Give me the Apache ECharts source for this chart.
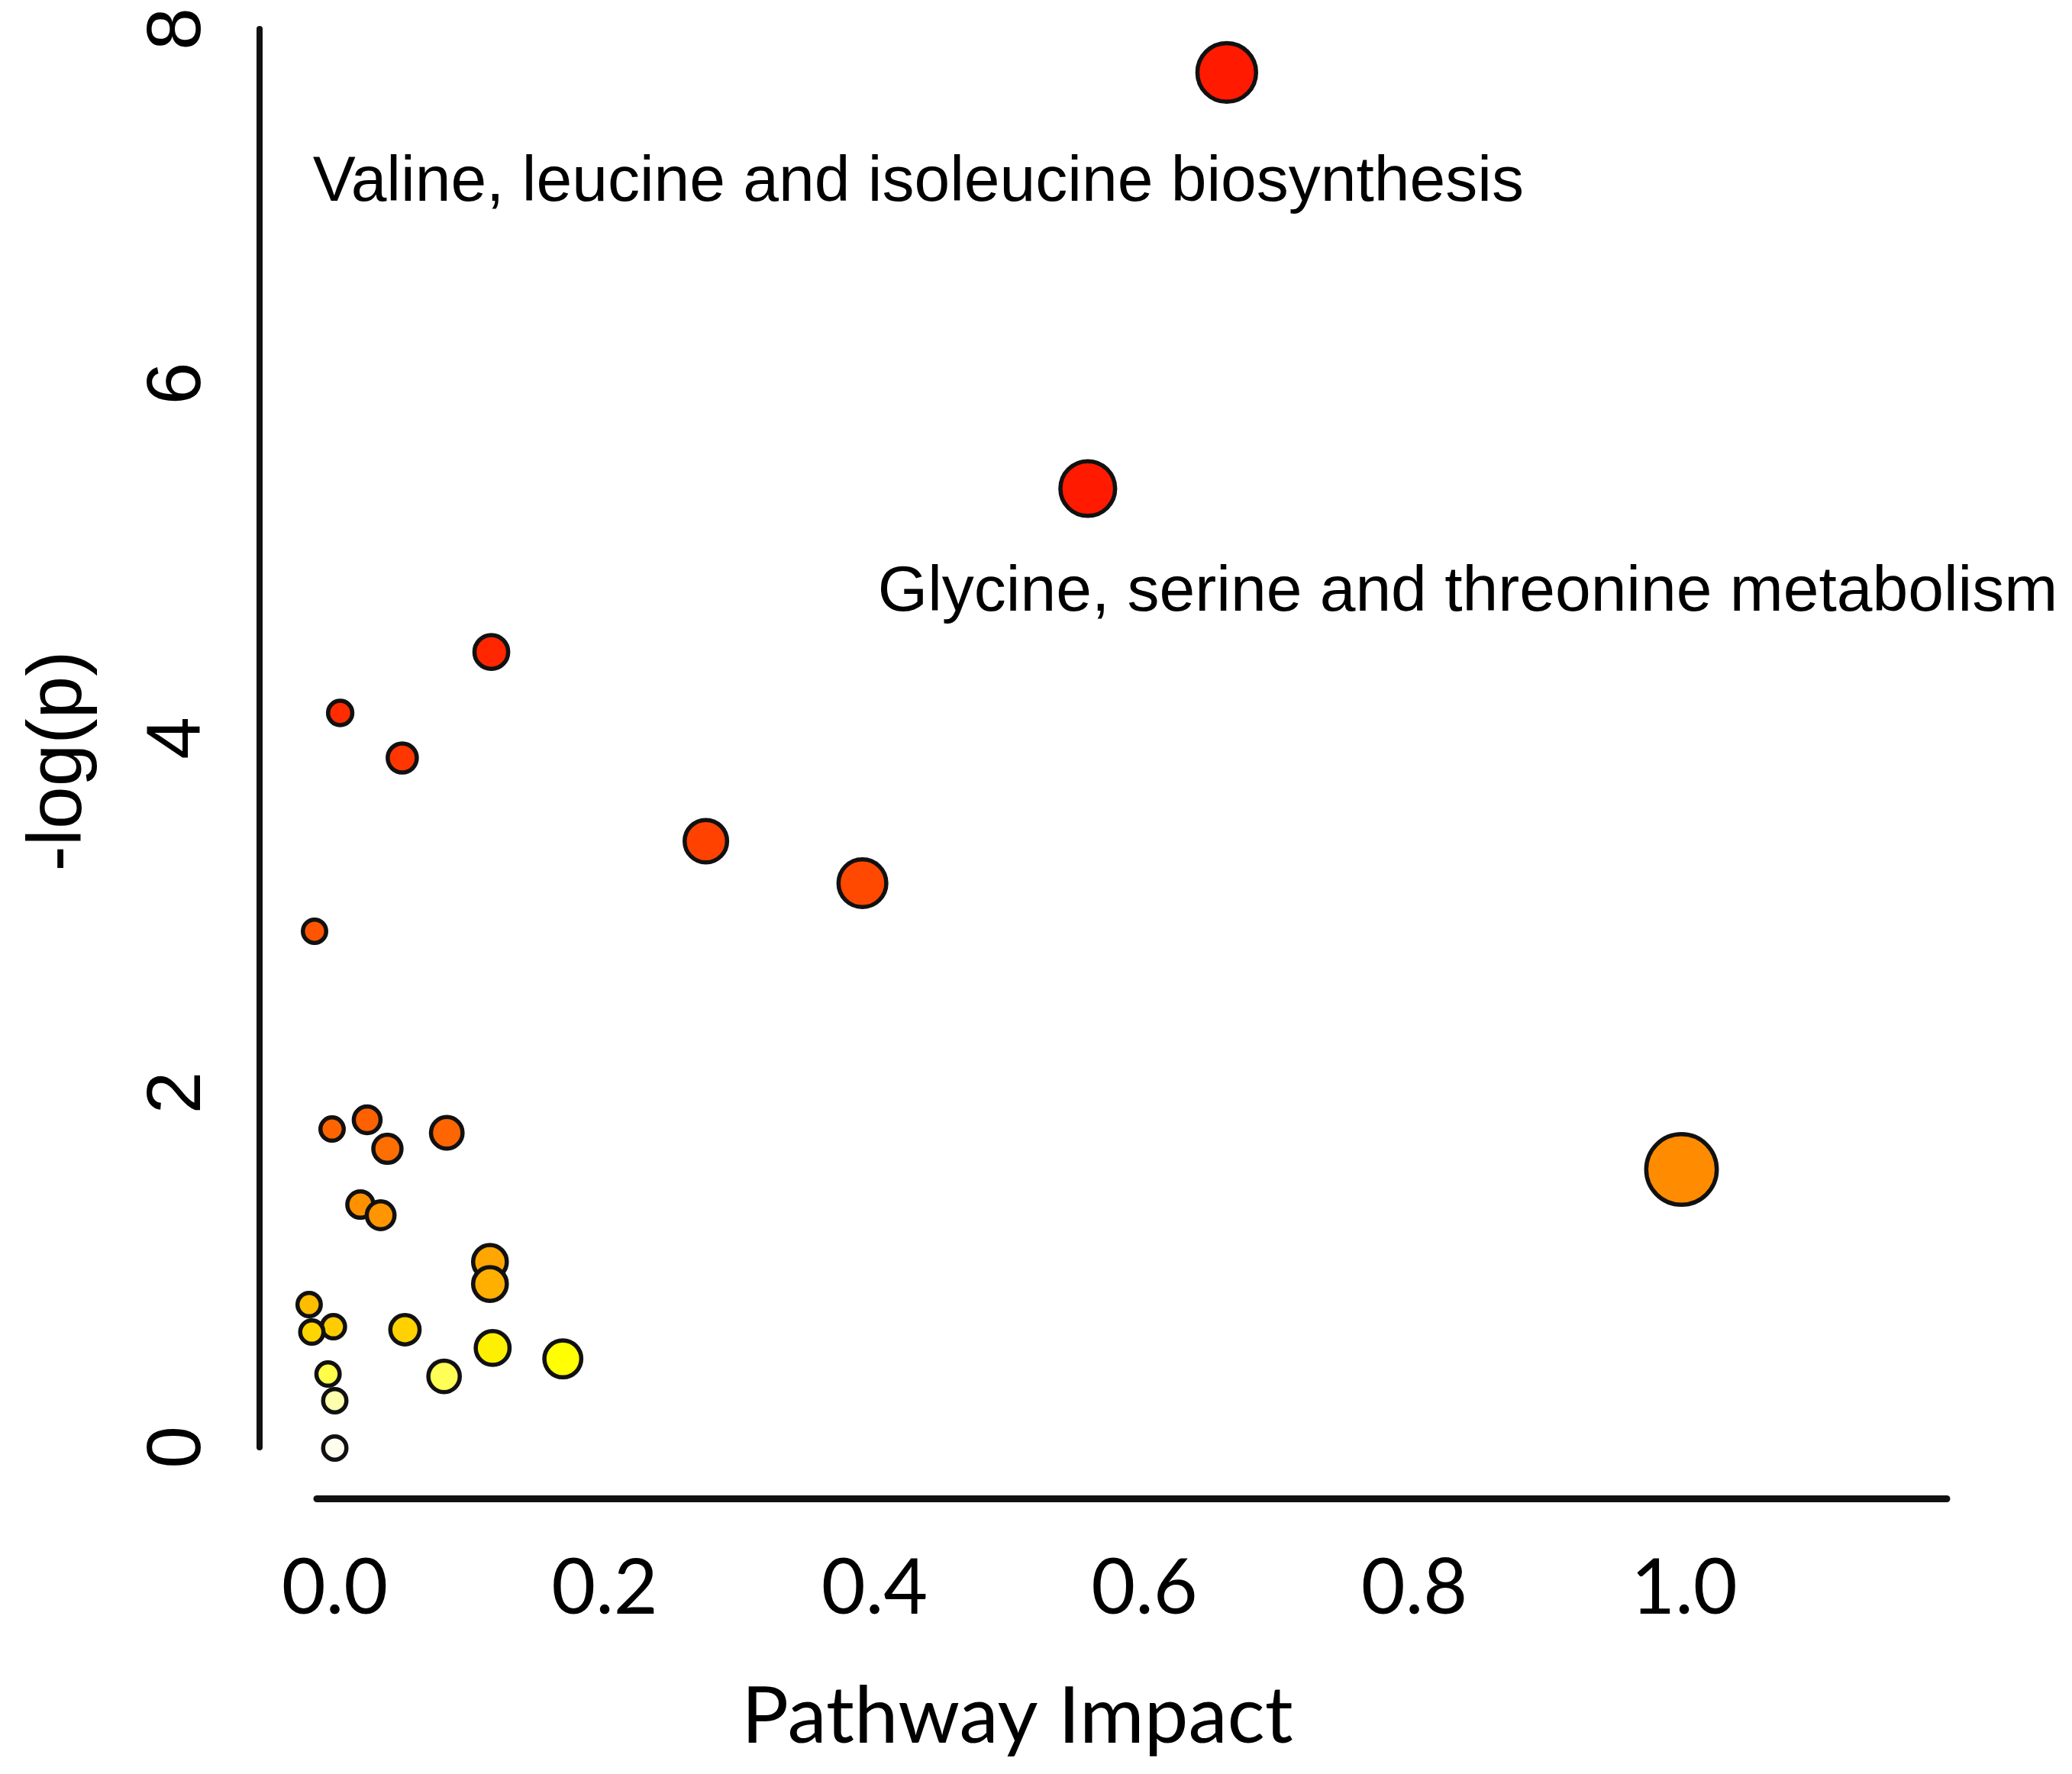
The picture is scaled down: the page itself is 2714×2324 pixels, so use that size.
<!DOCTYPE html>
<html>
<head>
<meta charset="utf-8">
<script src="https://cdn.jsdelivr.net/npm/echarts@6.0.0/dist/echarts.min.js"></script>
<style>
html, body { margin: 0; padding: 0; background: #fff; }
#chart { width: 2714px; height: 2324px; }
</style>
</head>
<body>
<div id="chart"></div>
<script>
// values: pathway impact (x) and -log(p) (y)
const impact = [0.661, 0.558, 0.116, 0.004, 0.050, 0.275, 0.391, -0.015, -0.002, 0.024,
	0.039, 0.083, 0.998, 0.019, 0.034, 0.115, 0.115, -0.019, -0.001, -0.017,
	0.052, 0.117, 0.169, 0.081, -0.005, 0.000, 0.000];
const logP = [7.755, 5.408, 4.486, 4.142, 3.888, 3.419, 3.182, 2.911, 1.795, 1.847,
	1.684, 1.774, 1.567, 1.369, 1.309, 1.046, 0.921, 0.805, 0.680, 0.650,
	0.663, 0.560, 0.499, 0.400, 0.413, 0.263, -0.004];
const pathwayNames = ['Valine, leucine and isoleucine biosynthesis', 'Glycine, serine and threonine metabolism'];
const xTicks = [0, 0.2, 0.4, 0.6, 0.8, 1.0];
const yTicks = [0, 2, 4, 6, 8];

// heat colour scale, -log(p) -> fill
const heatStops = [
	[0, '#FFFFF0'], [0.26, '#FFFFB0'], [0.40, '#FFFF55'], [0.50, '#FFFF00'], [0.56, '#FFF000'],
	[0.68, '#FFCC00'], [0.95, '#FFAC00'], [1.35, '#FF9200'], [1.57, '#FF8C00'], [1.70, '#FF6A00'],
	[1.85, '#FF6000'], [2.9, '#FF5600'], [3.2, '#FF4800'], [3.42, '#FF4200'], [3.9, '#FF3600'],
	[4.15, '#FF2C00'], [4.5, '#FF2600'], [5.4, '#FF1A00'], [8, '#FF1A00']
];

function hex2rgb(h) {
	return [parseInt(h.slice(1, 3), 16), parseInt(h.slice(3, 5), 16), parseInt(h.slice(5, 7), 16)];
}

function heat(v) {
	if (v <= heatStops[0][0]) return heatStops[0][1];
	for (let i = 1; i < heatStops.length; i++) {
		if (v <= heatStops[i][0]) {
			let a = heatStops[i - 1], b = heatStops[i];
			let t = (v - a[0]) / (b[0] - a[0]);
			let ca = hex2rgb(a[1]), cb = hex2rgb(b[1]);
			let c = ca.map((x, k) => Math.round(x + (cb[k] - x) * t));
			return 'rgb(' + c.join(',') + ')';
		}
	}
	return heatStops[heatStops.length - 1][1];
}

const border = 5.5;

// bubble radius grows with impact
function bubbleSize(x) {
	let r = 18 + 31 * Math.pow(Math.max(x, 0), 0.7);
	return 2 * r - border;
}

const labelOffsets = [[-1197, 145], [-275, 137]];

let data = [];
for (let i = 0; i < impact.length; i++) {
	let item = { value: [impact[i], logP[i]] };
	if (i < pathwayNames.length) {
		item.name = pathwayNames[i];
		item.label = {
			show: true,
			position: 'inside',
			align: 'left',
			verticalAlign: 'middle',
			offset: labelOffsets[i],
			formatter: '{b}',
			fontFamily: 'Liberation Sans, Arial',
			fontSize: 84,
			color: '#000'
		};
	}
	data.push(item);
}

let chart = echarts.init(document.getElementById('chart'), null, { renderer: 'canvas' });
chart.setOption({
	backgroundColor: '#ffffff',
	animation: false,
	grid: { left: 415, right: 164, top: 38, bottom: 428 },
	xAxis: {
		type: 'value',
		min: -0.0133,
		max: 1.1946,
		offset: 67,
		axisLine: { show: true, onZero: false, lineStyle: { color: '#111', width: 9 } },
		axisTick: { show: false },
		splitLine: { show: false },
		axisLabel: {
			customValues: xTicks,
			formatter: v => v.toFixed(1),
			fontFamily: 'Lato',
			fontSize: 100,
			color: '#000',
			margin: 69
		},
		name: 'Pathway Impact',
		nameLocation: 'middle',
		nameGap: 235,
		nameTextStyle: { fontFamily: 'Lato', fontSize: 103, color: '#000', padding: [0, 300, 0, 0] }
	},
	yAxis: {
		type: 'value',
		min: 0,
		max: 8,
		interval: 2,
		offset: 75,
		axisLine: { show: true, onZero: false, lineStyle: { color: '#111', width: 8 } },
		axisTick: { show: false },
		splitLine: { show: false },
		axisLabel: {
			customValues: yTicks,
			rotate: 90,
			fontFamily: 'Liberation Sans, Arial',
			fontSize: 100,
			color: '#000',
			margin: 56
		},
		name: '-log(p)',
		nameLocation: 'middle',
		nameGap: 212,
		nameTextStyle: { fontFamily: 'Liberation Sans, Arial', fontSize: 100, color: '#000', padding: [0, 60, 0, 0] }
	},
	series: [{
		type: 'scatter',
		clip: false,
		data: data,
		symbol: 'circle',
		symbolSize: (val) => bubbleSize(val[0]),
		itemStyle: {
			color: (p) => heat(p.value[1]),
			borderColor: '#111',
			borderWidth: border,
			opacity: 1
		},
		emphasis: { disabled: true }
	}]
});
</script>
</body>
</html>
